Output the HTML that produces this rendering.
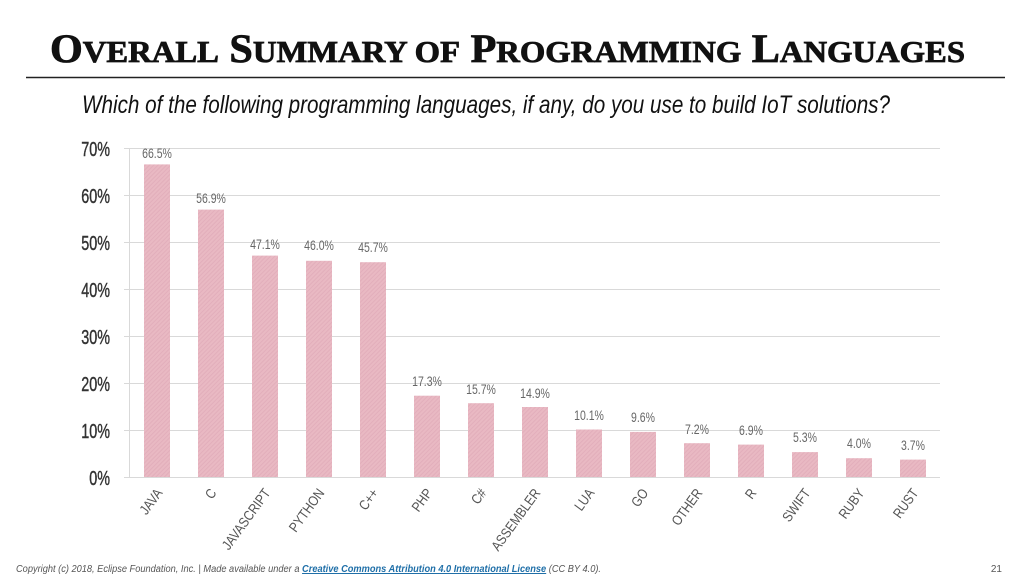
<!DOCTYPE html>
<html><head><meta charset="utf-8"><style>
body{margin:0;background:#fff;}
svg{display:block;}
</style></head><body>
<svg width="1024" height="576" viewBox="0 0 1024 576" xmlns="http://www.w3.org/2000/svg">
<defs>
<pattern id="h" width="3" height="3" patternUnits="userSpaceOnUse" patternTransform="rotate(45)">
<rect width="3" height="3" fill="#e9b9c3"/><rect width="1" height="3" fill="#e2aebb"/>
</pattern>
</defs>
<text x="50" y="62" font-family="'Liberation Serif',serif" font-weight="bold" font-size="40" textLength="915" lengthAdjust="spacingAndGlyphs" fill="#111" stroke="#111" stroke-width="0.8">O<tspan font-size="31">VERALL</tspan> S<tspan font-size="31">UMMARY OF</tspan> P<tspan font-size="31">ROGRAMMING</tspan> L<tspan font-size="31">ANGUAGES</tspan></text>
<line x1="26" y1="77.5" x2="1005" y2="77.5" stroke="#222" stroke-width="1.5"/>
<text x="82" y="113" font-family="'Liberation Sans',sans-serif" font-style="italic" font-size="25" textLength="808" lengthAdjust="spacingAndGlyphs" fill="#111">Which of the following programming languages, if any, do you use to build IoT solutions?</text>
<g stroke="#d9d9d9" stroke-width="1">
<line x1="124" y1="148.5" x2="940" y2="148.5"/>
<line x1="124" y1="195.5" x2="940" y2="195.5"/>
<line x1="124" y1="242.5" x2="940" y2="242.5"/>
<line x1="124" y1="289.5" x2="940" y2="289.5"/>
<line x1="124" y1="336.5" x2="940" y2="336.5"/>
<line x1="124" y1="383.5" x2="940" y2="383.5"/>
<line x1="124" y1="430.5" x2="940" y2="430.5"/>
<line x1="124" y1="477.5" x2="940" y2="477.5"/>
<line x1="129.5" y1="148" x2="129.5" y2="478"/>
</g>
<g font-family="'Liberation Sans',sans-serif" font-size="20" fill="#333" stroke="#333" stroke-width="0.4" text-anchor="end">
<text transform="translate(110,156) scale(0.72,1)">70%</text>
<text transform="translate(110,203) scale(0.72,1)">60%</text>
<text transform="translate(110,250) scale(0.72,1)">50%</text>
<text transform="translate(110,297) scale(0.72,1)">40%</text>
<text transform="translate(110,344) scale(0.72,1)">30%</text>
<text transform="translate(110,391) scale(0.72,1)">20%</text>
<text transform="translate(110,438) scale(0.72,1)">10%</text>
<text transform="translate(110,485) scale(0.72,1)">0%</text>
</g>
<text x="16" y="572" font-family="'Liberation Sans',sans-serif" font-style="italic" font-size="10" fill="#555" textLength="585" lengthAdjust="spacingAndGlyphs">Copyright (c) 2018, Eclipse Foundation, Inc. | Made available under a <tspan fill="#1f6fa8" font-weight="bold" text-decoration="underline">Creative Commons Attribution 4.0 International License</tspan> (CC BY 4.0).</text>
<text x="1002" y="572" font-family="'Liberation Sans',sans-serif" font-size="10" fill="#555" text-anchor="end">21</text>
<g font-family="'Liberation Sans',sans-serif" fill="#666">
<rect x="144" y="164.4" width="26" height="312.6" fill="url(#h)"/><text transform="translate(157,158) scale(0.75,1)" font-size="14" text-anchor="middle">66.5%</text>
<rect x="198" y="209.6" width="26" height="267.4" fill="url(#h)"/><text transform="translate(211,203) scale(0.75,1)" font-size="14" text-anchor="middle">56.9%</text>
<rect x="252" y="255.6" width="26" height="221.4" fill="url(#h)"/><text transform="translate(265,249) scale(0.75,1)" font-size="14" text-anchor="middle">47.1%</text>
<rect x="306" y="260.8" width="26" height="216.2" fill="url(#h)"/><text transform="translate(319,250) scale(0.75,1)" font-size="14" text-anchor="middle">46.0%</text>
<rect x="360" y="262.2" width="26" height="214.8" fill="url(#h)"/><text transform="translate(373,252) scale(0.75,1)" font-size="14" text-anchor="middle">45.7%</text>
<rect x="414" y="395.7" width="26" height="81.3" fill="url(#h)"/><text transform="translate(427,386) scale(0.75,1)" font-size="14" text-anchor="middle">17.3%</text>
<rect x="468" y="403.2" width="26" height="73.8" fill="url(#h)"/><text transform="translate(481,394) scale(0.75,1)" font-size="14" text-anchor="middle">15.7%</text>
<rect x="522" y="407" width="26" height="70" fill="url(#h)"/><text transform="translate(535,398) scale(0.75,1)" font-size="14" text-anchor="middle">14.9%</text>
<rect x="576" y="429.5" width="26" height="47.5" fill="url(#h)"/><text transform="translate(589,420) scale(0.75,1)" font-size="14" text-anchor="middle">10.1%</text>
<rect x="630" y="431.9" width="26" height="45.1" fill="url(#h)"/><text transform="translate(643,422) scale(0.75,1)" font-size="14" text-anchor="middle">9.6%</text>
<rect x="684" y="443.2" width="26" height="33.8" fill="url(#h)"/><text transform="translate(697,434) scale(0.75,1)" font-size="14" text-anchor="middle">7.2%</text>
<rect x="738" y="444.6" width="26" height="32.4" fill="url(#h)"/><text transform="translate(751,435) scale(0.75,1)" font-size="14" text-anchor="middle">6.9%</text>
<rect x="792" y="452.1" width="26" height="24.9" fill="url(#h)"/><text transform="translate(805,442) scale(0.75,1)" font-size="14" text-anchor="middle">5.3%</text>
<rect x="846" y="458.2" width="26" height="18.8" fill="url(#h)"/><text transform="translate(859,448) scale(0.75,1)" font-size="14" text-anchor="middle">4.0%</text>
<rect x="900" y="459.6" width="26" height="17.4" fill="url(#h)"/><text transform="translate(913,450) scale(0.75,1)" font-size="14" text-anchor="middle">3.7%</text>
</g>
<g font-family="'Liberation Sans',sans-serif" font-size="14" fill="#555" text-anchor="end">
<text transform="translate(163,493) rotate(-54) scale(0.85,1)">JAVA</text>
<text transform="translate(217,493) rotate(-54) scale(0.85,1)">C</text>
<text transform="translate(271,493) rotate(-54) scale(0.85,1)">JAVASCRIPT</text>
<text transform="translate(325,493) rotate(-54) scale(0.85,1)">PYTHON</text>
<text transform="translate(379,493) rotate(-54) scale(0.85,1)">C++</text>
<text transform="translate(433,493) rotate(-54) scale(0.85,1)">PHP</text>
<text transform="translate(487,493) rotate(-54) scale(0.85,1)">C#</text>
<text transform="translate(541,493) rotate(-54) scale(0.85,1)">ASSEMBLER</text>
<text transform="translate(595,493) rotate(-54) scale(0.85,1)">LUA</text>
<text transform="translate(649,493) rotate(-54) scale(0.85,1)">GO</text>
<text transform="translate(703,493) rotate(-54) scale(0.85,1)">OTHER</text>
<text transform="translate(757,493) rotate(-54) scale(0.85,1)">R</text>
<text transform="translate(811,493) rotate(-54) scale(0.85,1)">SWIFT</text>
<text transform="translate(865,493) rotate(-54) scale(0.85,1)">RUBY</text>
<text transform="translate(919,493) rotate(-54) scale(0.85,1)">RUST</text>
</g>
</svg>
</body></html>
